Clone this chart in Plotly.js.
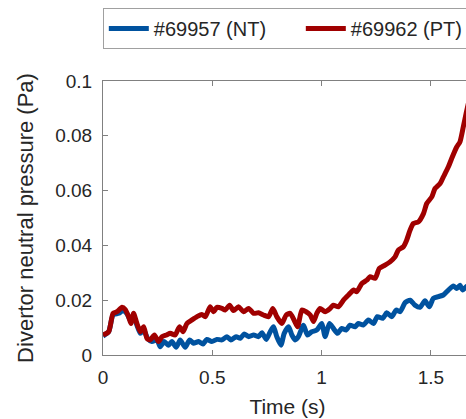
<!DOCTYPE html>
<html>
<head>
<meta charset="utf-8">
<script src="https://cdn.plot.ly/plotly-3.0.1.min.js"></script>
<style>
html,body{margin:0;padding:0;overflow:hidden;background:#fff;width:466px;height:419px;}
#chart{width:500px;height:419px;}
</style>
</head>
<body>
<div id="chart"></div>
<script>
// Shot #69957 (NT) - time (s) and divertor neutral pressure (Pa)
const ntTime = [0,0.026,0.046,0.072,0.091,0.11,0.125,0.14,0.155,0.171,0.186,0.204,0.224,0.247,0.262,0.28,0.3,0.315,0.335,0.353,0.376,0.396,0.414,0.437,0.457,0.475,0.498,0.521,0.544,0.567,0.585,0.609,0.628,0.646,0.666,0.689,0.711,0.727,0.747,0.765,0.78,0.795,0.814,0.829,0.849,0.864,0.879,0.894,0.917,0.935,0.955,0.978,1.001,1.016,1.036,1.054,1.073,1.092,1.112,1.13,1.153,1.168,1.191,1.214,1.237,1.255,1.28,1.298,1.321,1.341,1.359,1.382,1.405,1.427,1.45,1.473,1.493,1.511,1.534,1.557,1.58,1.603,1.618,1.633,1.645,1.661,1.68];
const ntPressure = [0.0069,0.0085,0.0146,0.0152,0.0162,0.015,0.0128,0.014,0.0109,0.0079,0.0091,0.0061,0.0049,0.0055,0.003,0.0049,0.0036,0.0049,0.0028,0.0055,0.0028,0.0055,0.0043,0.0049,0.004,0.0057,0.0049,0.0057,0.0055,0.0067,0.0055,0.0067,0.0061,0.0077,0.0067,0.0073,0.0067,0.0081,0.0057,0.0085,0.0103,0.0067,0.0036,0.0079,0.0103,0.0073,0.0055,0.0067,0.0109,0.0073,0.0085,0.0091,0.0115,0.0067,0.0115,0.0097,0.0079,0.0097,0.0091,0.0109,0.0103,0.0115,0.0109,0.0128,0.0115,0.014,0.0134,0.0154,0.014,0.0164,0.0158,0.0191,0.02,0.0182,0.0174,0.0198,0.0176,0.0207,0.0213,0.0219,0.0237,0.0252,0.0243,0.0255,0.0237,0.0249,0.0255];

// Shot #69962 (PT)
const ptTime = [0,0.026,0.046,0.064,0.087,0.102,0.117,0.128,0.14,0.155,0.171,0.186,0.201,0.216,0.235,0.254,0.27,0.29,0.308,0.33,0.35,0.366,0.384,0.407,0.43,0.452,0.468,0.49,0.506,0.521,0.544,0.559,0.579,0.597,0.62,0.643,0.666,0.689,0.711,0.734,0.757,0.777,0.795,0.818,0.838,0.856,0.874,0.89,0.91,0.929,0.948,0.963,0.978,0.993,1.016,1.039,1.054,1.077,1.1,1.123,1.146,1.161,1.184,1.207,1.222,1.245,1.264,1.29,1.313,1.336,1.351,1.374,1.389,1.405,1.42,1.443,1.466,1.481,1.504,1.519,1.542,1.557,1.58,1.595,1.618,1.633,1.648,1.661,1.68];
const ptPressure = [0.0073,0.0085,0.0152,0.0158,0.0174,0.0166,0.014,0.0115,0.0152,0.0115,0.0085,0.0103,0.0061,0.0055,0.0073,0.0049,0.0067,0.0073,0.0079,0.0073,0.0103,0.0085,0.0115,0.0128,0.014,0.0148,0.014,0.0176,0.0158,0.0174,0.017,0.0164,0.0182,0.0162,0.0176,0.0158,0.017,0.0152,0.0154,0.0146,0.014,0.017,0.014,0.0115,0.0146,0.0152,0.0128,0.0103,0.0164,0.0158,0.0146,0.0122,0.0152,0.017,0.0158,0.017,0.0182,0.0176,0.02,0.0219,0.0237,0.0231,0.0261,0.0273,0.0286,0.028,0.0316,0.0328,0.034,0.0358,0.0383,0.0395,0.0419,0.0456,0.048,0.0486,0.0516,0.0553,0.0577,0.0608,0.0626,0.065,0.0687,0.0717,0.0759,0.0778,0.0832,0.0881,0.095];

const seriesNames = ['#69957 (NT)', '#69962 (PT)'];
const xTicks = [0, 0.5, 1, 1.5];
const xTickText = ['0', '0.5', '1', '1.5'];
const yTicks = [0, 0.02, 0.04, 0.06, 0.08, 0.1];
const yTickText = ['0', '0.02', '0.04', '0.06', '0.08', '0.1'];

const FONT = '"Liberation Sans", Arial, Helvetica, sans-serif';
const TXT = '#262626';

const traces = [
  {x: ntTime, y: ntPressure, name: seriesNames[0], mode: 'lines', type: 'scatter',
   line: {color: '#00529F', width: 5, shape: 'spline', smoothing: 0.6}},
  {x: ptTime, y: ptPressure, name: seriesNames[1], mode: 'lines', type: 'scatter',
   line: {color: '#A00000', width: 5, shape: 'spline', smoothing: 0.6}}
];

const axisCommon = {
  showgrid: false, zeroline: false, showline: true, linecolor: '#808080', linewidth: 1,
  ticks: 'inside', ticklen: 5, tickwidth: 1, tickcolor: '#808080', mirror: 'ticks',
  tickfont: {family: FONT, size: 19, color: TXT}
};

const layout = {
  width: 500, height: 419,
  margin: {l: 103, r: 28, t: 81, b: 64, pad: 0, autoexpand: false},
  paper_bgcolor: '#ffffff', plot_bgcolor: '#ffffff',
  font: {family: FONT, color: TXT},
  xaxis: Object.assign({}, axisCommon, {
    range: [0, 1.688], tickvals: xTicks, ticktext: xTickText, ticklabelstandoff: 5,
    title: {text: 'Time (s)', font: {family: FONT, size: 21, color: TXT}, standoff: 12}
  }),
  yaxis: Object.assign({}, axisCommon, {
    range: [0, 0.1], tickvals: yTicks, ticktext: yTickText, ticklabelstandoff: 6,
    title: {text: 'Divertor neutral pressure (Pa)', font: {family: FONT, size: 22, color: TXT}, standoff: 15}
  }),
  showlegend: true,
  legend: {
    orientation: 'h', x: -0.0005, y: 1.266, xanchor: 'left', yanchor: 'top',
    bordercolor: '#a0a0a0', borderwidth: 1, bgcolor: '#ffffff',
    font: {family: FONT, size: 20, color: TXT},
    itemwidth: 40, entrywidth: 142, entrywidthmode: 'pixels'
  }
};

Plotly.newPlot('chart', traces, layout, {displayModeBar: false, staticPlot: true});
</script>
</body>
</html>
